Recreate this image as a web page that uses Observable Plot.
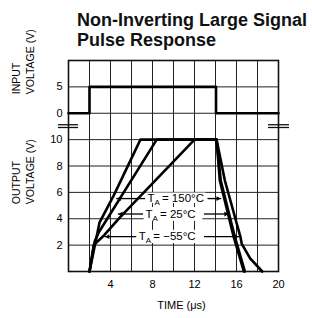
<!DOCTYPE html>
<html><head><meta charset="utf-8">
<script src="https://cdn.jsdelivr.net/npm/d3@7"></script>
<script src="https://cdn.jsdelivr.net/npm/@observablehq/plot@0.6"></script>
<style>
body{margin:0;background:#fff;width:312px;height:318px;overflow:hidden;font-family:"Liberation Sans",Arial,sans-serif}
#title{padding:10px 0 0 77px;height:40px;font-size:18px;font-weight:bold;line-height:20px;color:#111;white-space:nowrap;box-sizing:content-box}
#chart svg{display:block}
</style></head><body>
<div id="title">Non-Inverting Large Signal<br>Pulse Response</div>
<div id="chart"></div>
<script>
// ---- data (time in µs, voltages in V) ----
const inputT = [0, 2, 2, 14.05, 14.05, 20];
const inputV = [0, 0, 5, 5, 0, 0];

const t150 = [2, 2.95, 4.3, 6.85, 14.1, 14.41, 15.74, 16.7];
const v150 = [0, 3.7, 5.75, 10, 10, 6.9, 2.6, 0];
const t25  = [2, 2.5, 2.9, 8.4, 14.1, 14.5, 15.85, 16.8];
const v25  = [0, 2.3, 3.0, 10, 10, 6.9, 2.6, 0];
const tm55 = [2, 2.4, 3.4, 4.9, 12, 14.1, 14.89, 16.38, 16.5, 17.3, 18.45];
const vm55 = [0, 2.0, 2.75, 4.1, 10, 10, 6.9, 2.6, 2.1, 1.0, 0];

const tempLabels = ["= 150°C", "= 25°C", "= −55°C"];
const labelV     = [5.53, 4.36, 2.64];
const labelT     = [7.52, 7.33, 6.7];
const boxT1      = [7.4, 7.2, 6.55];
const boxT2      = [13.1, 12.8, 12.8];
const boxV1      = [5.15, 3.8, 2.12];
const boxV2      = [5.95, 4.85, 3.12];
const leftTipT   = [4.54, 4.7, 3.43];
const leftTailT  = [7.3, 7.1, 6.45];
const rightTailT = [13.24, 12.9, 12.9];
const rightTipT  = [14.55, 15.3, 16.25];

const xTicks = [4, 8, 12, 16, 20];
const outTicks = [2, 4, 6, 8, 10];
const inTicks = [0, 5];
const breakV = [10.92, 11.13];
const breakT1 = [-0.95, 19.05];
const breakT2 = [0.95, 21.05];

// input panel placed above output panel on one shared vertical scale
const inY = v => 12 + v * 0.4;

const series = (t, v, name) => t.map((x, i) => ({t: x, v: v[i], name}));
const curves = [
  ...series(t150, v150, "150"),
  ...series(t25, v25, "25"),
  ...series(tm55, vm55, "-55")
];
const input = inputT.map((t, i) => ({t, y: inY(inputV[i])}));
const ann = tempLabels.map((s, i) => ({
  s, v: labelV[i], t: labelT[i], bx1: boxT1[i], bx2: boxT2[i], by1: boxV1[i], by2: boxV2[i],
  lt: leftTipT[i], lta: leftTailT[i], rta: rightTailT[i], rt: rightTipT[i]
}));
const yTickVals = [...outTicks, ...inTicks.map(inY)];
const yTickText = new Map([...outTicks.map(d => [d, String(d)]), ...inTicks.map(d => [inY(d), String(d)])]);
const breaks = [];
for (let k = 0; k < breakT1.length; k++) for (const y of breakV) breaks.push({x1: breakT1[k], x2: breakT2[k], y});

const chart = Plot.plot({
  width: 312, height: 268,
  marginTop: 10, marginBottom: 47, marginLeft: 68, marginRight: 34,
  x: {domain: [0, 20]},
  y: {domain: [0, 16]},
  style: {fontFamily: "'Liberation Sans', Arial, sans-serif", fontSize: "11px", background: "white", color: "black", overflow: "visible"},
  marks: [
    Plot.gridX(d3.range(0, 21, 2), {stroke: "#222", strokeOpacity: 1, strokeWidth: 1}),
    Plot.gridY(d3.range(0, 17, 2), {stroke: "#222", strokeOpacity: 1, strokeWidth: 1}),
    Plot.frame({stroke: "#111", strokeWidth: 1.6}),
    Plot.axisX({ticks: xTicks, tickSize: 0, tickPadding: 9, label: null, fontSize: 11}),
    Plot.axisY({ticks: yTickVals, tickSize: 0, tickPadding: 6, label: null, fontSize: 11, tickFormat: d => yTickText.get(d)}),
    Plot.ruleY(breaks, {x1: "x1", x2: "x2", y: "y", stroke: "#111", strokeWidth: 1.3}),
    Plot.line(input, {x: "t", y: "y", stroke: "#000", strokeWidth: 2.6}),
    Plot.rect(ann, {x1: "bx1", x2: "bx2", y1: "by1", y2: "by2", fill: "white"}),
    Plot.line(curves, {x: "t", y: "v", z: "name", stroke: "#000", strokeWidth: 2.6, strokeLinejoin: "round"}),
    // annotation leader lines and heads
    Plot.link(ann, {x1: "lta", x2: "lt", y1: "v", y2: "v", stroke: "#000", strokeWidth: 1.3}),
    Plot.link(ann, {x1: "rta", x2: "rt", y1: "v", y2: "v", stroke: "#000", strokeWidth: 1.3}),
    Plot.dot(ann, {x: "lt", y: "v", symbol: "triangle2", r: 2.3, fill: "#000", rotate: -90, dx: 3.4}),
    Plot.dot(ann, {x: "rt", y: "v", symbol: "triangle2", r: 2.3, fill: "#000", rotate: 90, dx: -3.4}),
    Plot.text(ann, {x: "t", y: "v", text: () => "T", textAnchor: "start", fontSize: 11.5, letterSpacing: 0}),
    Plot.text(ann, {x: "t", y: "v", text: () => "A", textAnchor: "start", fontSize: 8, dx: 7, dy: 4}),
    Plot.text(ann, {x: "t", y: "v", text: "s", textAnchor: "start", fontSize: 11.5, dx: 14.5, letterSpacing: 0.4}),
    // axis titles
    Plot.text(["INPUT"], {frameAnchor: "left", y: [inY(3.6)], dx: -52, rotate: -90, fontSize: 10.5, text: d => d}),
    Plot.text(["VOLTAGE (V)"], {frameAnchor: "left", y: [inY(3.6)], dx: -38, rotate: -90, fontSize: 10.5, text: d => d}),
    Plot.text(["OUTPUT"], {frameAnchor: "left", y: [5.1], dx: -52, rotate: -90, fontSize: 10.5, text: d => d}),
    Plot.text(["VOLTAGE (V)"], {frameAnchor: "left", y: [5.1], dx: -38, rotate: -90, fontSize: 10.5, text: d => d}),
    Plot.text(["TIME (μs)"], {frameAnchor: "bottom", x: [10.76], dy: 37, fontSize: 11, letterSpacing: 1.4, text: d => d})
  ]
});
document.getElementById("chart").appendChild(chart);
</script>
</body></html>
